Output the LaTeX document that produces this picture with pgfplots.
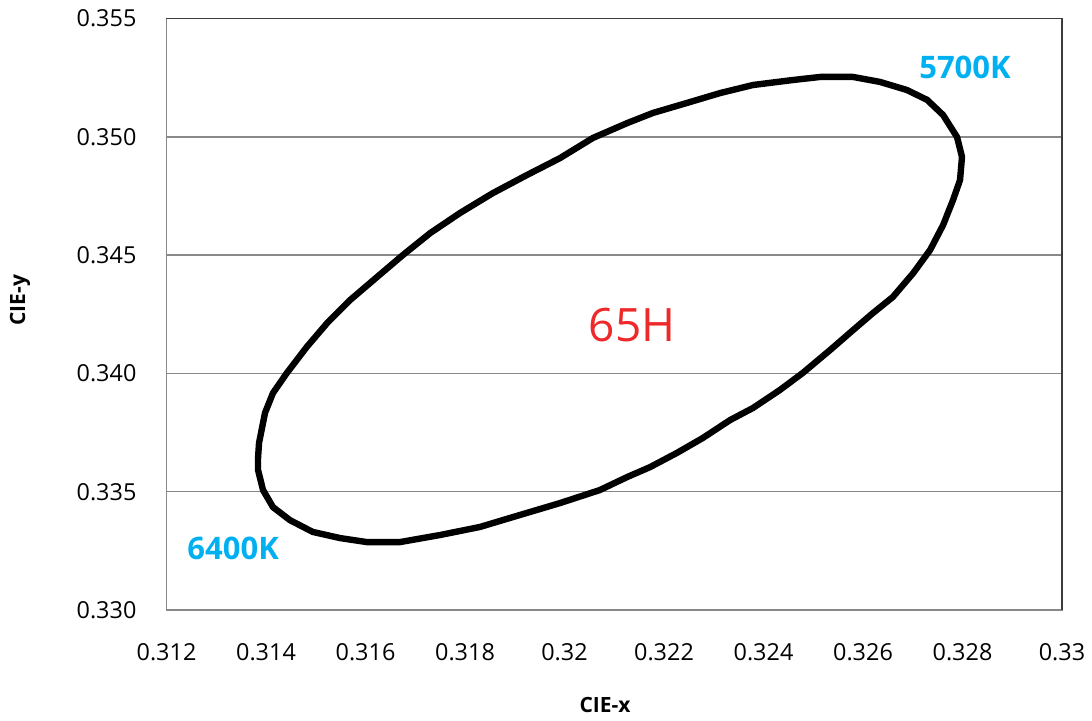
\documentclass[border=0pt]{standalone}
\usepackage{pgfplots}
\pgfplotsset{compat=1.18}
\usepackage{fontspec}
\setmainfont{Open Sans}
\definecolor{gridgray}{RGB}{137,137,137}
\definecolor{boxdark}{RGB}{60,60,60}
\definecolor{cctblue}{RGB}{0,176,240}
\definecolor{labred}{RGB}{237,41,41}
\begin{document}
\begin{tikzpicture}
\begin{axis}[
  at={(0,0)}, anchor=south west,
  scale only axis,
  width=447.75pt, height=295.75pt,
  xmin=0.312, xmax=0.33, ymin=0.330, ymax=0.355,
  xtick={0.312,0.314,0.316,0.318,0.32,0.322,0.324,0.326,0.328,0.33},
  xticklabels={0.312,0.314,0.316,0.318,0.32,0.322,0.324,0.326,0.328,0.33},
  ytick={0.330,0.335,0.340,0.345,0.350,0.355},
  yticklabels={0.330,0.335,0.340,0.345,0.350,0.355},
  major tick length=0pt,
  xticklabel style={anchor=center, yshift=-21pt, font=\fontsize{11.7}{14}\selectfont},
  yticklabel style={anchor=center, xshift=-30pt, font=\fontsize{11.7}{14}\selectfont},
  ymajorgrids,
  grid style={gridgray, line width=0.75pt},
  axis line style={gridgray, line width=0.9pt},
  xlabel={CIE-x}, ylabel={CIE-y},
  xlabel style={at={(axis description cs:0.4897,-0.1606)}, anchor=center, font=\fontsize{10.5}{12}\selectfont\bfseries},
  ylabel style={at={(axis description cs:-0.1636,0.524)}, anchor=center, font=\fontsize{10.5}{12}\selectfont\bfseries},
  clip=false,
  after end axis/.code={
    \draw[boxdark, line width=0.9pt] (rel axis cs:0,1) -- (rel axis cs:1,1) -- (rel axis cs:1,0);
  },
]
\addplot[black, line width=3.2pt, line join=round, line cap=round] coordinates {
(0.31384,0.33642) (0.31386,0.33706) (0.31398,0.33833) (0.31414,0.33917)
(0.31442,0.34002) (0.31482,0.34112) (0.31523,0.34213) (0.31569,0.34310)
(0.31623,0.34407) (0.31675,0.34500) (0.31730,0.34593) (0.31790,0.34678)
(0.31856,0.34762) (0.31925,0.34839) (0.31991,0.34910) (0.32057,0.34995)
(0.32126,0.35058) (0.32178,0.35101) (0.32246,0.35143) (0.32313,0.35185)
(0.32379,0.35219) (0.32459,0.35240) (0.32514,0.35253) (0.32580,0.35253)
(0.32634,0.35232) (0.32688,0.35198) (0.32729,0.35156) (0.32761,0.35092)
(0.32789,0.34999) (0.32799,0.34915) (0.32795,0.34817) (0.32781,0.34733)
(0.32761,0.34627) (0.32735,0.34522) (0.32701,0.34424) (0.32660,0.34323)
(0.32620,0.34255) (0.32580,0.34183) (0.32534,0.34099) (0.32479,0.34002)
(0.32433,0.33930) (0.32379,0.33854) (0.32333,0.33803) (0.32278,0.33727)
(0.32226,0.33664) (0.32172,0.33604) (0.32126,0.33562) (0.32071,0.33507)
(0.31991,0.33452) (0.31911,0.33402) (0.31830,0.33351) (0.31750,0.33317)
(0.31669,0.33287) (0.31603,0.33287) (0.31549,0.33304) (0.31494,0.33330)
(0.31448,0.33380) (0.31414,0.33435) (0.31394,0.33507) (0.31384,0.33592)
(0.31384,0.33642)
};
\node[cctblue, font=\fontsize{15.5}{18}\selectfont\bfseries] at (axis cs:0.32805,0.35295) {5700K};
\node[cctblue, font=\fontsize{15.5}{18}\selectfont\bfseries] at (axis cs:0.31334,0.33262) {6400K};
\node[labred, font=\fontsize{23}{26}\selectfont] at (axis cs:0.32136,0.34205) {65H};
\end{axis}
\pgfresetboundingbox
\useasboundingbox (-83.25pt,-55pt) rectangle (462.75pt,305pt);
\end{tikzpicture}
\end{document}
